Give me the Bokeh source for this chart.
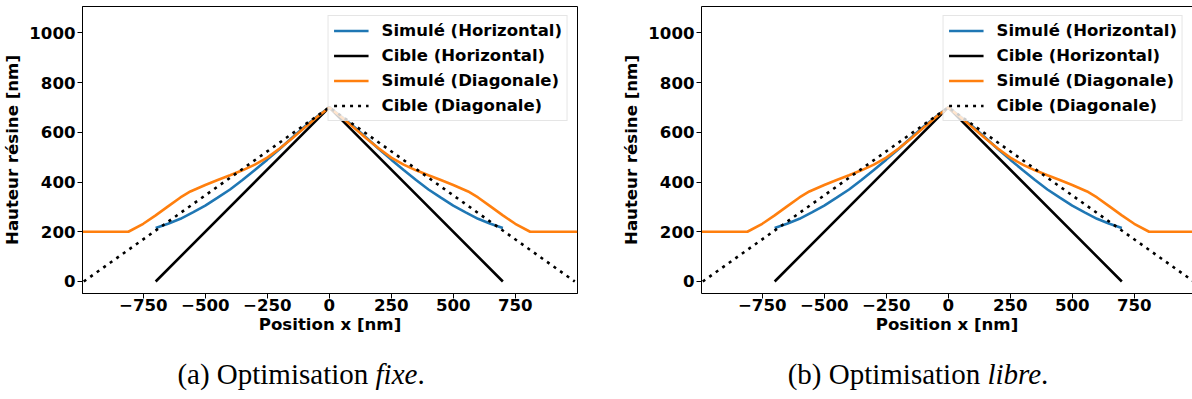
from bokeh.plotting import figure
from bokeh.models import (FixedTicker, LinearAxis, Range1d, Legend, LegendItem, Div)
from bokeh.layouts import column, row
from bokeh.embed import file_html
from bokeh.resources import INLINE

# ---- data ----
x_ticks = [-750, -500, -250, 0, 250, 500, 750]
y_ticks = [0, 200, 400, 600, 800, 1000]

sim_h_x = [-700, -650, -600, -550, -500, -450, -400, -350, -300, -250, -200, -150, -100, -50, 0,
           50, 100, 150, 200, 250, 300, 350, 400, 450, 500, 550, 600, 650, 700]
sim_h_y = [215, 232, 252, 278, 305, 337, 370, 408, 448, 490, 533, 578, 622, 662, 700,
           662, 622, 578, 533, 490, 448, 408, 370, 337, 305, 278, 252, 232, 215]

cib_h_x = [-700, 0, 700]
cib_h_y = [0, 700, 0]

sim_d_x = [-1000, -810, -750, -700, -650, -600, -560, -500, -450, -400, -350, -300, -250, -200, -150, -100, -50, 0,
           50, 100, 150, 200, 250, 300, 350, 400, 450, 500, 560, 600, 650, 700, 750, 810, 1000]
sim_d_y = [200, 200, 232, 266, 302, 338, 362, 388, 408, 427, 447, 470, 498, 535, 575, 618, 660, 700,
           660, 618, 575, 535, 498, 470, 447, 427, 408, 388, 362, 338, 302, 266, 232, 200, 200]

cib_d_x = [-990, 0, 990]
cib_d_y = [0, 700, 0]

labels = ["Simulé (Horizontal)", "Cible (Horizontal)", "Simulé (Diagonale)", "Cible (Diagonale)"]
captions = [("(a) Optimisation ", "fixe", "."), ("(b) Optimisation ", "libre", ".")]

FONT = "DejaVu Sans"
TXT = "16.6px"


def make_fig(width, x_end, right_border, outline):
    p = figure(width=width, height=343, output_backend="svg", toolbar_location=None,
               x_range=Range1d(-995, x_end), y_range=Range1d(-48.25, 1105.7),
               min_border_left=82, min_border_right=right_border,
               min_border_top=6, min_border_bottom=50)
    p.grid.visible = False
    p.outline_line_color = "black" if outline else None
    p.outline_line_width = 1
    p.background_fill_color = "white"
    p.border_fill_color = "white"
    for ax in (p.xaxis[0], p.yaxis[0]):
        ax.axis_line_color = "black"
        ax.major_tick_line_color = "black"
        ax.minor_tick_line_color = None
        ax.major_tick_out = 5
        ax.major_tick_in = 0
        ax.major_label_text_font = FONT
        ax.major_label_text_font_style = "bold"
        ax.major_label_text_font_size = TXT
        ax.major_label_text_color = "black"
        ax.axis_label_text_font = FONT
        ax.axis_label_text_font_style = "bold"
        ax.axis_label_text_font_size = TXT
        ax.axis_label_text_color = "black"
        ax.major_label_standoff = 2
        ax.axis_label_standoff = 4
    p.xaxis[0].major_label_standoff = 0
    p.xaxis[0].axis_label_standoff = 1
    p.xaxis.ticker = FixedTicker(ticks=x_ticks)
    p.yaxis.ticker = FixedTicker(ticks=y_ticks)
    p.xaxis.major_label_overrides = {t: str(t).replace("-", "\u2212") for t in x_ticks}
    p.xaxis.axis_label = "Position x [nm]"
    p.yaxis.axis_label = "Hauteur résine [nm]"

    if not outline:
        top = LinearAxis(ticker=FixedTicker(ticks=[]), axis_line_color="black",
                         major_tick_out=0, major_tick_in=0, minor_tick_line_color=None,
                         major_label_text_font_size="0px", major_label_standoff=0)
        p.add_layout(top, "above")

    r1 = p.line(sim_h_x, sim_h_y, line_color="#1f77b4", line_width=2.6)
    r2 = p.line(cib_h_x, cib_h_y, line_color="black", line_width=2.6)
    r3 = p.line(sim_d_x, sim_d_y, line_color="#ff7f0e", line_width=2.6)
    r4 = p.line(cib_d_x, cib_d_y, line_color="black", line_width=2.6, line_dash="3 5")

    legend = Legend(items=[LegendItem(label=l, renderers=[r]) for l, r in zip(labels, [r1, r2, r3, r4])],
                    location="top_right")
    legend.label_text_font = FONT
    legend.label_text_font_style = "bold"
    legend.label_text_font_size = "16.5px"
    legend.label_text_color = "black"
    legend.glyph_width = 35
    legend.glyph_height = 19
    legend.label_height = 19
    legend.label_standoff = 13
    legend.spacing = 6
    legend.padding = 5
    legend.margin = 9
    legend.border_line_color = "#cccccc"
    legend.border_line_width = 1
    legend.background_fill_color = "white"
    legend.background_fill_alpha = 0.8
    p.add_layout(legend)
    return p


p1 = make_fig(619, 1001, 42, True)
p2 = make_fig(573, 985, 0, False)

html = '<div style="position:relative;width:1192px;height:50px;font-family:\'Liberation Serif\';font-size:29px;color:#000;">'
for cx, (a, b, c) in zip([296, 913], captions):
    html += ('<span style="position:absolute;left:%dpx;top:6px;transform:translateX(-50%%);white-space:nowrap;">'
             '%s<i>%s</i>%s</span>' % (cx, a, b, c))
html += '</div>'
cap = Div(text=html, width=1192, height=50)

layout = column(row(p1, p2, spacing=0), cap, spacing=0)

open("out.html", "w").write(file_html(layout, INLINE))
